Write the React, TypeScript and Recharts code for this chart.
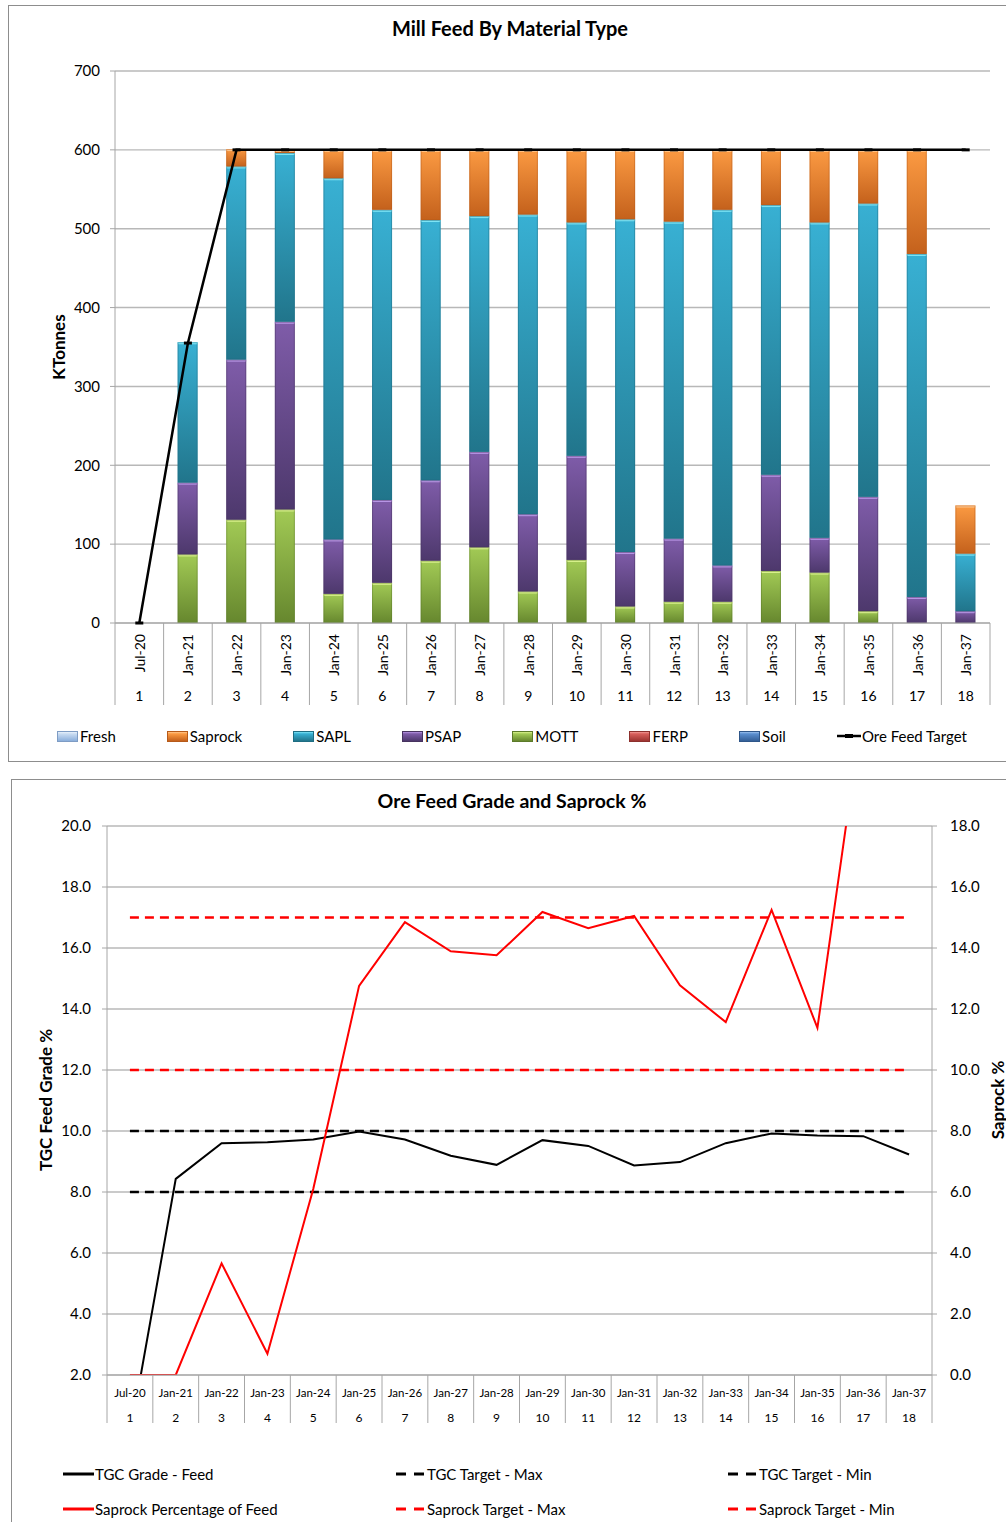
import { Bar, CartesianGrid, ComposedChart, Line, XAxis, YAxis } from "recharts";

const FONT = "Lato, 'Open Sans', sans-serif";

const periods = ["Jul-20", "Jan-21", "Jan-22", "Jan-23", "Jan-24", "Jan-25", "Jan-26", "Jan-27", "Jan-28", "Jan-29", "Jan-30", "Jan-31", "Jan-32", "Jan-33", "Jan-34", "Jan-35", "Jan-36", "Jan-37"];
const periodNumbers = ["1", "2", "3", "4", "5", "6", "7", "8", "9", "10", "11", "12", "13", "14", "15", "16", "17", "18"];

// mill feed, KTonnes
const fresh = [0, 0, 0, 0, 0, 0, 0, 0, 0, 0, 0, 0, 0, 0, 0, 0, 0, 0];
const saprock = [0, 0, 22, 4, 36, 76, 89, 84, 82, 92, 88, 91, 76, 70, 92, 68, 132, 61];
const sapl = [0, 178, 245, 214, 458, 368, 330, 299, 380, 296, 422, 402, 451, 342, 400, 372, 435, 73];
const psap = [0, 91, 203, 238, 69, 105, 102, 121, 98, 132, 69, 80, 46, 122, 44, 145, 33, 15];
const mott = [0, 87, 131, 144, 37, 51, 79, 96, 40, 80, 21, 27, 27, 66, 64, 15, 0, 0];
const ferp = [0, 0, 0, 0, 0, 0, 0, 0, 0, 0, 0, 0, 0, 0, 0, 0, 0, 0];
const soil = [0, 0, 0, 0, 0, 0, 0, 0, 0, 0, 0, 0, 0, 0, 0, 0, 0, 0];
const oreFeedTarget = [0, 355, 600, 600, 600, 600, 600, 600, 600, 600, 600, 600, 600, 600, 600, 600, 600, 600];
const feedTicks = [0, 100, 200, 300, 400, 500, 600, 700];

// grade and saprock %
const tgcGradeFeed = [0, 8.43, 9.6, 9.63, 9.72, 9.98, 9.72, 9.19, 8.89, 9.7, 9.51, 8.87, 8.98, 9.6, 9.92, 9.85, 9.83, 9.23];
const tgcTargetMax = [10, 10, 10, 10, 10, 10, 10, 10, 10, 10, 10, 10, 10, 10, 10, 10, 10, 10];
const tgcTargetMin = [8, 8, 8, 8, 8, 8, 8, 8, 8, 8, 8, 8, 8, 8, 8, 8, 8, 8];
const saprockPctOfFeed = [0, 0, 3.66, 0.7, 6.1, 12.76, 14.85, 13.89, 13.76, 15.18, 14.65, 15.05, 12.78, 11.57, 15.25, 11.38, 22.0, 40.9];
const saprockTargetMax = [15, 15, 15, 15, 15, 15, 15, 15, 15, 15, 15, 15, 15, 15, 15, 15, 15, 15];
const saprockTargetMin = [10, 10, 10, 10, 10, 10, 10, 10, 10, 10, 10, 10, 10, 10, 10, 10, 10, 10];
const gradeTicks = [2, 4, 6, 8, 10, 12, 14, 16, 18, 20];
const saprockTicks = [0, 2, 4, 6, 8, 10, 12, 14, 16, 18];

const feedData = periods.map((period, i) => ({
  period,
  soil: soil[i],
  ferp: ferp[i],
  mott: mott[i],
  psap: psap[i],
  sapl: sapl[i],
  saprock: saprock[i],
  fresh: fresh[i],
  target: oreFeedTarget[i],
}));

const gradeData = periods.map((period, i) => ({
  period,
  grade: tgcGradeFeed[i],
  tgcMax: tgcTargetMax[i],
  tgcMin: tgcTargetMin[i],
  sapPct: saprockPctOfFeed[i],
  sapMax: saprockTargetMax[i],
  sapMin: saprockTargetMin[i],
}));

type Tone = { key: string; name: string; top: string; bottom: string; hi: string; edge: string };

const tones: Record<string, Tone> = {
  fresh: { key: "fresh", name: "Fresh", top: "#c9dcf2", bottom: "#8aaedb", hi: "#e8f1fb", edge: "#7e9cc4" },
  saprock: { key: "saprock", name: "Saprock", top: "#fb9a42", bottom: "#c4611c", hi: "#ffc88f", edge: "#b65a1a" },
  sapl: { key: "sapl", name: "SAPL", top: "#38b0d3", bottom: "#21758b", hi: "#7fe6f7", edge: "#1f6d82" },
  psap: { key: "psap", name: "PSAP", top: "#7f5ca9", bottom: "#4d386c", hi: "#b996e6", edge: "#47335f" },
  mott: { key: "mott", name: "MOTT", top: "#a2ca55", bottom: "#66872e", hi: "#dcf38f", edge: "#5c7a29" },
  ferp: { key: "ferp", name: "FERP", top: "#d9605c", bottom: "#9c3431", hi: "#f19a96", edge: "#8c302d" },
  soil: { key: "soil", name: "Soil", top: "#5b8fd0", bottom: "#345f97", hi: "#9cc2ef", edge: "#2f5689" },
};

const stackOrder = ["soil", "ferp", "mott", "psap", "sapl", "saprock", "fresh"];
const legendOrder = ["fresh", "saprock", "sapl", "psap", "mott", "ferp", "soil"];

function GlossBar(props: any) {
  const { x, y, width, height, tone } = props;
  if (!height || height < 0.5) return <g />;
  return (
    <g>
      <rect x={x} y={y} width={width} height={height} fill={`url(#grad-${tone.key})`} />
      <rect x={x} y={y} width={width} height={Math.min(2, height)} fill={tone.hi} />
      <rect x={x + 0.5} y={y + 0.5} width={width - 1} height={height - 1} fill="none" stroke={tone.edge} strokeOpacity={0.45} />
    </g>
  );
}

function FeedPeriodTick(props: any) {
  const { x, y, payload, index } = props;
  const half = payload?.offset || 24.3;
  const last = index === periods.length - 1;
  return (
    <g>
      <line x1={x - half} y1={y} x2={x - half} y2={y + 82} stroke="#a6a6a6" />
      {last && <line x1={x + half} y1={y} x2={x + half} y2={y + 82} stroke="#a6a6a6" />}
      <text
        x={x}
        y={y + 11}
        transform={`rotate(-90 ${x} ${y + 11})`}
        textAnchor="end"
        dominantBaseline="central"
        fontSize={14}
        fontFamily={FONT}
        fill="#000"
      >
        {payload.value}
      </text>
      <text x={x} y={y + 72} textAnchor="middle" dominantBaseline="central" fontSize={14} fontFamily={FONT} fill="#000">
        {periodNumbers[index]}
      </text>
    </g>
  );
}

function GradePeriodTick(props: any) {
  const { x, y, payload, index } = props;
  const half = payload?.offset || 22.9;
  const last = index === periods.length - 1;
  return (
    <g>
      <line x1={x - half} y1={y} x2={x - half} y2={y + 48} stroke="#a6a6a6" />
      {last && <line x1={x + half} y1={y} x2={x + half} y2={y + 48} stroke="#a6a6a6" />}
      <text x={x} y={y + 17} textAnchor="middle" dominantBaseline="central" fontSize={11.5} fontFamily={FONT} fill="#000">
        {payload.value}
      </text>
      <text x={x} y={y + 42} textAnchor="middle" dominantBaseline="central" fontSize={12} fontFamily={FONT} fill="#000">
        {periodNumbers[index]}
      </text>
    </g>
  );
}

const targetDot = (p: any) => (
  <rect key={`dot-${p.index}`} x={p.cx - 4} y={p.cy - 1.5} width={8} height={3} fill="#000" />
);

function RotatedTitle({ text, cx, cy }: { text: string; cx: number; cy: number }) {
  return (
    <div
      style={{
        position: "absolute",
        left: cx,
        top: cy,
        transform: "translate(-50%, -50%) rotate(-90deg)",
        whiteSpace: "nowrap",
        fontWeight: 700,
        fontSize: 17,
      }}
    >
      {text}
    </div>
  );
}

function FeedLegend() {
  return (
    <div
      style={{
        position: "absolute",
        left: 57,
        top: 727,
        width: 910,
        display: "flex",
        justifyContent: "space-between",
        fontSize: 15,
        lineHeight: "18px",
      }}
    >
      {legendOrder.map((k) => {
        const t = tones[k];
        return (
          <div key={k} style={{ display: "flex", alignItems: "center" }}>
            <span
              style={{
                display: "inline-block",
                width: 19,
                height: 9,
                marginRight: 2,
                border: `1px solid ${t.edge}`,
                background: `linear-gradient(${t.hi} 0%, ${t.top} 20%, ${t.bottom} 100%)`,
              }}
            />
            {t.name}
          </div>
        );
      })}
      <div style={{ display: "flex", alignItems: "center" }}>
        <svg width={24} height={10} style={{ marginRight: 1 }}>
          <line x1={0} y1={5} x2={24} y2={5} stroke="#000" strokeWidth={2.5} />
          <rect x={8} y={3} width={8} height={4} fill="#000" />
        </svg>
        Ore Feed Target
      </div>
    </div>
  );
}

const gradeLegend = [
  { label: "TGC Grade - Feed", color: "#000", dashed: false },
  { label: "TGC Target - Max", color: "#000", dashed: true },
  { label: "TGC Target - Min", color: "#000", dashed: true },
  { label: "Saprock Percentage of Feed", color: "#ff0000", dashed: false },
  { label: "Saprock Target - Max", color: "#ff0000", dashed: true },
  { label: "Saprock Target - Min", color: "#ff0000", dashed: true },
];

function GradeLegend() {
  return (
    <div
      style={{
        position: "absolute",
        left: 63,
        top: 1465,
        display: "grid",
        gridTemplateColumns: "332px 332px 332px",
        rowGap: 17,
        fontSize: 15,
        lineHeight: "18px",
      }}
    >
      {gradeLegend.map((item) => (
        <div key={item.label} style={{ display: "flex", alignItems: "center" }}>
          <svg width={31} height={10} style={{ marginRight: 1 }}>
            {item.dashed ? (
              <g stroke={item.color} strokeWidth={3}>
                <line x1={1} y1={5} x2={11} y2={5} />
                <line x1={19} y1={5} x2={29} y2={5} />
              </g>
            ) : (
              <line x1={0} y1={5} x2={31} y2={5} stroke={item.color} strokeWidth={3} />
            )}
          </svg>
          {item.label}
        </div>
      ))}
    </div>
  );
}

export default function App() {
  return (
    <div
      style={{
        position: "absolute",
        left: 0,
        top: 0,
        width: 1006,
        height: 1522,
        overflow: "hidden",
        background: "#fff",
        fontFamily: FONT,
        color: "#000",
      }}
    >
      <div style={{ position: "absolute", left: 8, top: 5, width: 1100, height: 755, border: "1px solid #8d8d8d" }} />
      <div style={{ position: "absolute", left: 11, top: 779, width: 1100, height: 800, border: "1px solid #8d8d8d" }} />

      <div style={{ position: "absolute", left: 0, top: 16, width: 1020, textAlign: "center", fontWeight: 700, fontSize: 20, lineHeight: "24px" }}>
        Mill Feed By Material Type
      </div>
      <RotatedTitle text="KTonnes" cx={58} cy={347} />

      <div style={{ position: "absolute", left: 0, top: 0 }}>
        <ComposedChart width={1006} height={765} data={feedData} margin={{ top: 71, right: 16, bottom: 42, left: 55 }}>
          <defs>
            {Object.values(tones).map((t) => (
              <linearGradient key={t.key} id={`grad-${t.key}`} x1="0" y1="0" x2="0" y2="1">
                <stop offset="0%" stopColor={t.top} />
                <stop offset="100%" stopColor={t.bottom} />
              </linearGradient>
            ))}
          </defs>
          <CartesianGrid vertical={false} stroke="#b8b8b8" strokeWidth={1.4} />
          <XAxis
            dataKey="period"
            scale="band"
            interval={0}
            height={100}
            tickSize={0}
            tickMargin={0}
            tickLine={false}
            axisLine={{ stroke: "#a6a6a6" }}
            tick={<FeedPeriodTick />}
          />
          <YAxis
            width={60}
            domain={[0, 700]}
            ticks={feedTicks}
            tickSize={5}
            tickMargin={10}
            axisLine={{ stroke: "#a6a6a6" }}
            tickLine={{ stroke: "#a6a6a6" }}
            tick={{ fontSize: 15, fill: "#000", fontFamily: FONT }}
          />
          {stackOrder.map((k) => (
            <Bar
              key={k}
              dataKey={k}
              name={tones[k].name}
              stackId="feed"
              barSize={20}
              fill={tones[k].top}
              isAnimationActive={false}
              shape={(p: any) => <GlossBar {...p} tone={tones[k]} />}
            />
          ))}
          <Line
            dataKey="target"
            name="Ore Feed Target"
            type="linear"
            stroke="#000"
            strokeWidth={2.5}
            dot={targetDot}
            activeDot={false}
            isAnimationActive={false}
          />
        </ComposedChart>
      </div>
      <FeedLegend />

      <div style={{ position: "absolute", left: 0, top: 789, width: 1024, textAlign: "center", fontWeight: 700, fontSize: 19.5, lineHeight: "24px" }}>
        Ore Feed Grade and Saprock %
      </div>
      <RotatedTitle text="TGC Feed Grade %" cx={45} cy={1100} />
      <RotatedTitle text="Saprock %" cx={997} cy={1100} />

      <div style={{ position: "absolute", left: 0, top: 770 }}>
        <ComposedChart width={1006} height={752} data={gradeData} margin={{ top: 56, right: 14, bottom: 87, left: 47 }}>
          <CartesianGrid vertical={false} yAxisId="grade" stroke="#b8b8b8" strokeWidth={1.4} />
          <XAxis
            dataKey="period"
            scale="band"
            interval={0}
            height={60}
            tickSize={0}
            tickMargin={0}
            tickLine={false}
            axisLine={{ stroke: "#a6a6a6" }}
            tick={<GradePeriodTick />}
          />
          <YAxis
            yAxisId="grade"
            width={60}
            domain={[2, 20]}
            ticks={gradeTicks}
            allowDataOverflow
            tickFormatter={(v: number) => v.toFixed(1)}
            tickSize={5}
            tickMargin={11}
            axisLine={{ stroke: "#a6a6a6" }}
            tickLine={{ stroke: "#a6a6a6" }}
            tick={{ fontSize: 15, fill: "#000", fontFamily: FONT }}
          />
          <YAxis
            yAxisId="sap"
            orientation="right"
            width={60}
            domain={[0, 18]}
            ticks={saprockTicks}
            allowDataOverflow
            tickFormatter={(v: number) => v.toFixed(1)}
            tickSize={5}
            tickMargin={13}
            axisLine={{ stroke: "#a6a6a6" }}
            tickLine={{ stroke: "#a6a6a6" }}
            tick={{ fontSize: 15, fill: "#000", fontFamily: FONT }}
          />
          <Line yAxisId="grade" dataKey="tgcMax" name="TGC Target - Max" stroke="#000" strokeWidth={2.5} strokeDasharray="9 6" dot={false} activeDot={false} isAnimationActive={false} />
          <Line yAxisId="grade" dataKey="tgcMin" name="TGC Target - Min" stroke="#000" strokeWidth={2.5} strokeDasharray="9 6" dot={false} activeDot={false} isAnimationActive={false} />
          <Line yAxisId="sap" dataKey="sapMax" name="Saprock Target - Max" stroke="#ff0000" strokeWidth={2.5} strokeDasharray="9 6" dot={false} activeDot={false} isAnimationActive={false} />
          <Line yAxisId="sap" dataKey="sapMin" name="Saprock Target - Min" stroke="#ff0000" strokeWidth={2.5} strokeDasharray="9 6" dot={false} activeDot={false} isAnimationActive={false} />
          <Line yAxisId="grade" dataKey="grade" name="TGC Grade - Feed" stroke="#000" strokeWidth={2} dot={false} activeDot={false} isAnimationActive={false} />
          <Line yAxisId="sap" dataKey="sapPct" name="Saprock Percentage of Feed" stroke="#ff0000" strokeWidth={2} dot={false} activeDot={false} isAnimationActive={false} />
        </ComposedChart>
      </div>
      <GradeLegend />
    </div>
  );
}
